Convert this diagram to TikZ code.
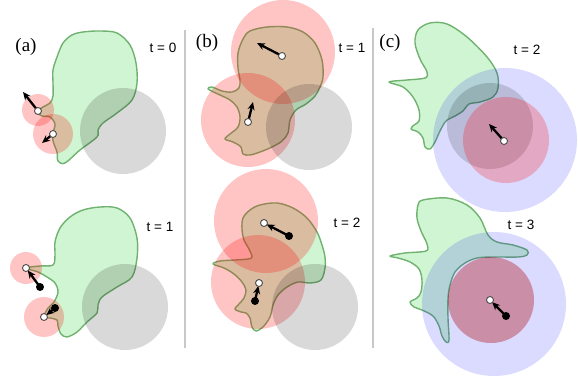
\documentclass[tikz,border=0pt]{standalone}
\usepackage{fontspec}
\setmainfont{Liberation Serif}
\newfontfamily\labsans{Liberation Sans}
\usetikzlibrary{arrows.meta}
\definecolor{blobfill}{RGB}{208,245,210}
\definecolor{blobline}{RGB}{112,178,112}
\definecolor{divcol}{RGB}{200,200,200}
\tikzset{
 blob/.style={fill=blobfill, draw=blobline, line width=1.4pt, line join=round},
 redc/.style={fill=red, fill opacity=0.23},
 grayc/.style={fill=black, fill opacity=0.15},
 bluec/.style={fill=blue, fill opacity=0.14},
 arr/.style={line width=2.3pt, -{Stealth[length=8pt,width=7pt]}},
 arrin/.style={line width=2.3pt, -{Stealth[length=8pt,width=7pt]}, shorten >=3pt},
 wdot/.style={circle, fill=white, draw=black!70, line width=0.9pt, inner sep=0pt, minimum size=7pt},
 bdot/.style={circle, fill=black, inner sep=0pt, minimum size=8pt},
 plab/.style={font=\fontsize{19}{19}\selectfont, inner sep=0pt},
 tlab/.style={font=\labsans\fontsize{13.5}{14}\selectfont, inner sep=0pt},
 divider/.style={draw=divcol, line width=1.2pt}
}
\begin{document}
\begin{tikzpicture}[x=1pt,y=-1pt]
\useasboundingbox (0,0) rectangle (578,379);

% dividers
\coordinate (d1a) at (185,30); \coordinate (d1b) at (185,348);
\coordinate (d2a) at (373,28); \coordinate (d2b) at (373,348);
\draw[divider] (d1a) -- (d1b);
\draw[divider] (d2a) -- (d2b);

% labels
\node[plab] (la) at (26,47) {(a)};
\node[plab] (lb) at (207,43) {(b)};
\node[plab] (lc) at (390,43) {(c)};
\node[tlab] (ta0) at (163,48) {t = 0};
\node[tlab] (ta1) at (160,227) {t = 1};
\node[tlab] (tb1) at (352,48) {t = 1};
\node[tlab] (tb2) at (347,223) {t = 2};
\node[tlab] (tc2) at (527,50) {t = 2};
\node[tlab] (tc3) at (521,225) {t = 3};

%% ---------- (a) t=0 ----------
\draw[blob] plot[smooth cycle, tension=0.55] coordinates {
(83,32) (100,31) (117,33) (130,45) (136,63) (137,83) (132,100) (117,113) (103,123)
(98,130) (97,137) (80,150) (65,163) (58,161) (57,152) (53,141) (53,133) (55,124)
(50,117) (42,116) (37,112) (43,107) (50,103) (53,96) (53,83) (53,70) (57,57) (63,43) (72,35)};
\fill[redc] (38,110) circle (16);
\fill[redc] (53,134) circle (20);
\fill[grayc] (123,131) circle (43);
\coordinate (aw1) at (38,111); \coordinate (at1) at (23,92);
\coordinate (aw2) at (53,134); \coordinate (at2) at (42,143);
\draw[arr] (aw1) -- (at1);
\draw[arr] (aw2) -- (at2);
\node[wdot] (aw1n) at (aw1) {};
\node[wdot] (aw2n) at (aw2) {};

%% ---------- (a) t=1 ----------
\draw[blob] plot[smooth cycle, tension=0.55] coordinates {
(83,210) (100,207) (117,208) (130,218) (137,238) (137,258) (132,277) (117,287) (102,297)
(98,305) (97,313) (87,322) (77,332) (67,337) (61,334) (58,326) (57,320) (50,318) (44,317)
(48,308) (54,302) (58,292) (55,283) (47,277) (38,272) (26,268) (40,266) (53,265)
(55,255) (55,242) (60,228) (70,217)};
\fill[redc] (26,268) circle (16);
\fill[redc] (44,317) circle (20);
\fill[grayc] (125,307) circle (43);
\coordinate (aw3) at (26,268); \coordinate (ab3) at (40,287);
\coordinate (aw4) at (44,317); \coordinate (ab4) at (55,308);
\draw[arrin] (ab3) -- (aw3);
\draw[arrin] (ab4) -- (aw4);
\node[bdot] (ab3n) at (ab3) {};
\node[bdot] (ab4n) at (ab4) {};
\node[wdot] (aw3n) at (aw3) {};
\node[wdot] (aw4n) at (aw4) {};

%% ---------- (b) t=1 ----------
\draw[blob] plot[smooth cycle, tension=0.55] coordinates {
(250,31) (267,27) (287,27) (303,32) (315,43) (322,60) (323,77) (320,87) (315,96)
(306,104) (296,110) (290,120) (288,133) (282,141) (272,147) (260,152) (250,155)
(243,154) (241,147) (233,142) (225,139) (230,134) (238,127) (240,117) (237,107)
(230,100) (220,95) (208,89) (212,87) (222,91) (232,92) (239,88) (240,80) (238,68)
(238,53) (243,39)};
\fill[redc] (283,52) circle (52);
\fill[redc] (248,120) circle (47);
\fill[grayc] (309,127) circle (43);
\coordinate (bw1) at (282,56); \coordinate (bt1) at (257,43);
\coordinate (bw2) at (248,122); \coordinate (bt2) at (253,102);
\draw[arr] (bw1) -- (bt1);
\draw[arr] (bw2) -- (bt2);
\node[wdot] (bw1n) at (bw1) {};
\node[wdot] (bw2n) at (bw2) {};

%% ---------- (b) t=2 ----------
\draw[blob] plot[smooth cycle, tension=0.55] coordinates {
(243,218) (250,210) (260,205) (277,203) (293,208) (307,218) (317,232) (322,245)
(325,257) (325,268) (321,280) (310,283) (298,282) (287,287) (278,295) (273,305)
(270,317) (263,327) (256,331) (252,327) (250,318) (246,313) (241,312) (235,309)
(239,304) (244,298) (246,290) (242,282) (234,274) (224,268) (213,264) (220,261)
(235,260) (248,259) (252,257) (249,249) (244,240) (242,229)};
\fill[redc] (266,221) circle (52);
\fill[redc] (258,282) circle (47);
\fill[grayc] (315,307) circle (43);
\coordinate (bw3) at (264,223); \coordinate (bb3) at (289,236);
\coordinate (bw4) at (259,283); \coordinate (bb4) at (255,301);
\draw[arrin] (bb3) -- (bw3);
\draw[arrin] (bb4) -- (bw4);
\node[bdot] (bb3n) at (bb3) {};
\node[bdot] (bb4n) at (bb4) {};
\node[wdot] (bw3n) at (bw3) {};
\node[wdot] (bw4n) at (bw4) {};

%% ---------- (c) t=2 ----------
\draw[blob] plot[smooth cycle, tension=0.55] coordinates {
(430,23) (447,24) (467,37) (487,57) (497,73) (498,88) (493,97) (480,102) (469,104)
(463,111) (455,116) (446,121) (440,131) (435,142) (430,149) (425,147) (423,138)
(418,132) (411,129) (414,125) (419,121) (419,110) (413,97) (403,87) (389,82)
(407,80) (425,78) (427,72) (420,59) (415,43) (418,30)};
\fill[bluec] (505,140) circle (72);
\fill[grayc] (490,126) circle (43);
\fill[redc] (506,140) circle (43);
\coordinate (cw1) at (504,141); \coordinate (ct1) at (489,124);
\draw[arr] (cw1) -- (ct1);
\node[wdot] (cw1n) at (cw1) {};

%% ---------- (c) t=3 ----------
\draw[blob] plot[smooth cycle, tension=0.55] coordinates {
(423,200) (447,198) (467,205) (480,218) (488,235) (497,242) (513,245) (527,250)
(527,255) (518,257) (493,257) (477,258) (465,263) (455,272) (450,285) (448,298)
(448,318) (449,340) (446,342) (442,336) (439,326) (433,316) (422,310) (414,307)
(410,302) (417,298) (421,292) (422,280) (419,269) (410,262) (398,258) (390,256)
(405,253) (426,251) (427,244) (421,231) (417,218) (418,205)};
\fill[bluec] (494,304) circle (72);
\fill[grayc] (491,300) circle (43);
\fill[redc] (491,300) circle (43);
\coordinate (cw2) at (490,300); \coordinate (cb2) at (506,316);
\draw[arrin] (cb2) -- (cw2);
\node[bdot] (cb2n) at (cb2) {};
\node[wdot] (cw2n) at (cw2) {};
\end{tikzpicture}
\end{document}
